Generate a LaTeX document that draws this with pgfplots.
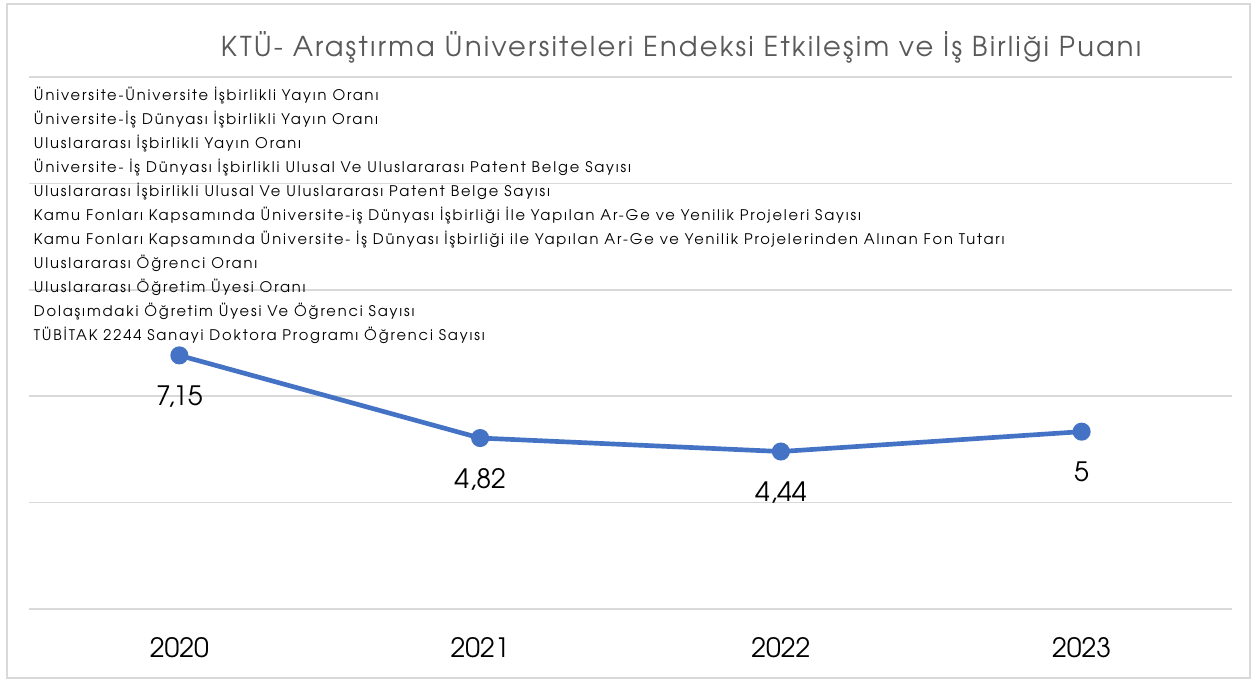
\documentclass[border=0pt]{standalone}
\usepackage{fontspec}
\setmainfont{TeX Gyre Adventor}
\newfontfamily\legfont[LetterSpace=12.5]{TeX Gyre Adventor}
\newfontfamily\titfont[LetterSpace=8]{TeX Gyre Adventor}
\usepackage{pgfplots}
\pgfplotsset{compat=1.18}
\definecolor{serieblue}{HTML}{4472C4}
\definecolor{gridgray}{HTML}{D9D9D9}
\definecolor{titlegray}{HTML}{595959}
\begin{document}
\begin{tikzpicture}
\path[use as bounding box] (-21.75pt,-54pt) rectangle (921.75pt,456.75pt);
\fill[white] (-21.75pt,-54pt) rectangle (921.75pt,456.75pt);
\draw[gridgray, line width=1.2pt] (-16.5pt,-51.75pt) rectangle (915.75pt,453.75pt);
\begin{axis}[
  at={(0,0)}, anchor=south west,
  scale only axis,
  width=902.25pt, height=399pt,
  xmin=-0.5, xmax=3.5,
  ymin=0, ymax=15,
  xtick={0,1,2,3},
  xticklabels={2020,2021,2022,2023},
  ytick={0,3,6,9,12,15},
  yticklabels={},
  major tick length=0pt,
  axis line style={draw=none},
  ymajorgrids,
  grid style={gridgray, line width=1.1pt},
  /pgf/number format/assume math mode=true,
  /pgf/number format/use comma,
  xticklabel style={inner sep=0pt, yshift=-21.5pt, font=\fontsize{20}{24}\selectfont, text=black},
  title={KTÜ- Araştırma Üniversiteleri Endeksi Etkileşim ve İş Birliği Puanı},
  title style={at={(axis description cs:0.542,1.0414)}, anchor=center, font=\titfont\fontsize{20.5}{24}\selectfont, text=titlegray},
  legend style={at={(axis description cs:0,1)}, anchor=north west, xshift=3.5pt, yshift=-8.25pt,
    draw=none, fill=none, inner sep=0pt, row sep=6pt,
    font=\legfont\fontsize{11}{13}\selectfont,
    nodes={inner sep=0pt, text height=9pt, text depth=3pt}},
  legend cell align=left,
  clip=false,
]
\addlegendimage{empty legend}\addlegendentry{Üniversite-Üniversite İşbirlikli Yayın Oranı}
\addlegendimage{empty legend}\addlegendentry{Üniversite-İş Dünyası İşbirlikli Yayın Oranı}
\addlegendimage{empty legend}\addlegendentry{Uluslararası İşbirlikli Yayın Oranı}
\addlegendimage{empty legend}\addlegendentry{Üniversite- İş Dünyası İşbirlikli Ulusal Ve Uluslararası Patent Belge Sayısı}
\addlegendimage{empty legend}\addlegendentry{Uluslararası İşbirlikli Ulusal Ve Uluslararası Patent Belge Sayısı}
\addlegendimage{empty legend}\addlegendentry{Kamu Fonları Kapsamında Üniversite-iş Dünyası İşbirliği İle Yapılan Ar-Ge ve Yenilik Projeleri Sayısı}
\addlegendimage{empty legend}\addlegendentry{Kamu Fonları Kapsamında Üniversite- İş Dünyası İşbirliği ile Yapılan Ar-Ge ve Yenilik Projelerinden Alınan Fon Tutarı}
\addlegendimage{empty legend}\addlegendentry{Uluslararası Öğrenci Oranı}
\addlegendimage{empty legend}\addlegendentry{Uluslararası Öğretim Üyesi Oranı}
\addlegendimage{empty legend}\addlegendentry{Dolaşımdaki Öğretim Üyesi Ve Öğrenci Sayısı}
\addlegendimage{empty legend}\addlegendentry{TÜBİTAK 2244 Sanayi Doktora Programı Öğrenci Sayısı}
\addplot[serieblue, line width=3.5pt, mark=*, mark size=5pt, mark options={fill=serieblue, draw=serieblue},
  forget plot,
  nodes near coords,
  every node near coord/.append style={anchor=north, yshift=-21pt, inner sep=0pt, font=\fontsize{20}{24}\selectfont, text=black}]
  coordinates {(0,7.15) (1,4.82) (2,4.44) (3,5)};
\end{axis}
\end{tikzpicture}
\end{document}
